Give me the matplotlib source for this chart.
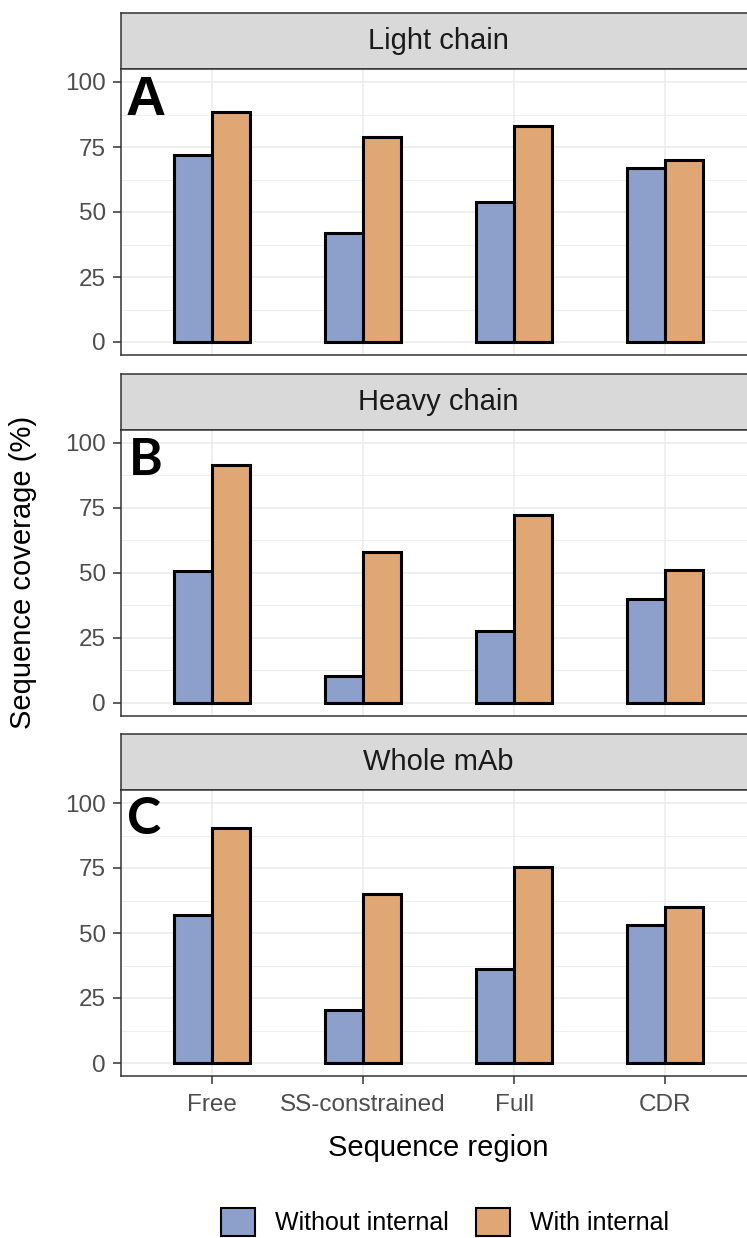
import numpy as np
import matplotlib
matplotlib.use('Agg')
import matplotlib.pyplot as plt
from matplotlib.patches import Patch

# Valores (cobertura de sequência, %)
regions = ['Free', 'SS-constrained', 'Full', 'CDR']
panels = ['Light chain', 'Heavy chain', 'Whole mAb']
letters = ['A', 'B', 'C']
series = ['Without internal', 'With internal']

light_without = [72, 42, 54, 67]
light_with = [88.5, 79, 83, 70]
heavy_without = [50.5, 10.5, 27.5, 40]
heavy_with = [91.5, 58, 72, 51]
whole_without = [57, 20.5, 36, 53]
whole_with = [90.5, 65, 75.5, 60]

without_vals = [light_without, heavy_without, whole_without]
with_vals = [light_with, heavy_with, whole_with]

c_without = '#8DA0CB'
c_with = '#E0A673'

plt.rcParams['font.family'] = ['Liberation Sans', 'DejaVu Sans']

W, H = 747, 1238
fig = plt.figure(figsize=(W / 100, H / 100), dpi=100)


def rect(x0, y0, x1, y1):
    # caixa em pixels (origem no topo) -> fração da figura
    return [x0 / W, 1 - y1 / H, (x1 - x0) / W, (y1 - y0) / H]


left, right = 121, 756
strip_tops = [13, 374, 734]
strip_bots = [69, 429.5, 790]
plot_bots = [355, 716, 1076]
letter_pos = [(126, 75), (129, 437), (127, 796)]
letter_fonts = ['Liberation Sans', 'Lato', 'Lato']
letter_sizes = [40, 37, 37]

x = np.arange(1, len(regions) + 1)
bw = 0.25

for i in range(3):
    # faixa cinza do título
    sax = fig.add_axes(rect(left, strip_tops[i], right, strip_bots[i]))
    sax.set_facecolor('#D9D9D9')
    sax.set_xticks([])
    sax.set_yticks([])
    for s in sax.spines.values():
        s.set_color('#333333')
        s.set_linewidth(1.1)
    sax.text(((left + right) / 2 - left) / (right - left), 0.5, panels[i],
             transform=sax.transAxes, ha='center', va='center',
             fontsize=21, color='#1A1A1A')

    ax = fig.add_axes(rect(left, strip_bots[i], right, plot_bots[i]))
    ax.bar(x - bw / 2, without_vals[i], width=bw, color=c_without,
           edgecolor='black', linewidth=2.2, zorder=3)
    ax.bar(x + bw / 2, with_vals[i], width=bw, color=c_with,
           edgecolor='black', linewidth=2.2, zorder=3)
    ax.set_xlim(0.4, 4.6)
    ax.set_ylim(-5, 105)
    ax.set_yticks([0, 25, 50, 75, 100])
    ax.set_yticks([12.5, 37.5, 62.5, 87.5], minor=True)
    ax.set_xticks(x)
    ax.grid(True, which='major', color='#EBEBEB', linewidth=1.1, zorder=0)
    ax.grid(True, which='minor', axis='y', color='#EBEBEB', linewidth=0.6, zorder=0)
    ax.set_axisbelow(True)
    for s in ax.spines.values():
        s.set_color('#333333')
        s.set_linewidth(1.1)
    ax.tick_params(axis='y', which='major', length=6, width=1.1, color='#333333',
                   labelsize=17.5, labelcolor='#4D4D4D', pad=5)
    ax.tick_params(axis='y', which='minor', length=0)
    if i < 2:
        ax.tick_params(axis='x', length=0, labelbottom=False)
    else:
        ax.set_xticklabels(regions)
        ax.tick_params(axis='x', length=6, width=1.1, color='#333333',
                       labelsize=17.5, labelcolor='#4D4D4D', pad=7)

    lx, ly = letter_pos[i]
    fig.text(lx / W, 1 - ly / H, letters[i], ha='left', va='top',
             fontsize=letter_sizes[i], fontweight='bold',
             family=letter_fonts[i], color='black')

fig.text(23 / W, 1 - 572 / H, 'Sequence coverage (%)', rotation=90,
         ha='center', va='center', fontsize=21, color='black')
fig.text(438 / W, 1 - 1148 / H, 'Sequence region', ha='center', va='center',
         fontsize=21, color='black')

handles = [Patch(facecolor=c_without, edgecolor='black', linewidth=1.5),
           Patch(facecolor=c_with, edgecolor='black', linewidth=1.5)]
fig.legend(handles, series, loc='center', bbox_to_anchor=(445 / W, 1 - 1222 / H),
           ncol=2, frameon=False, fontsize=18, handlelength=1.35,
           handleheight=1.35, handletextpad=0.8, columnspacing=1.1)

fig.savefig('out.png', dpi=100)
